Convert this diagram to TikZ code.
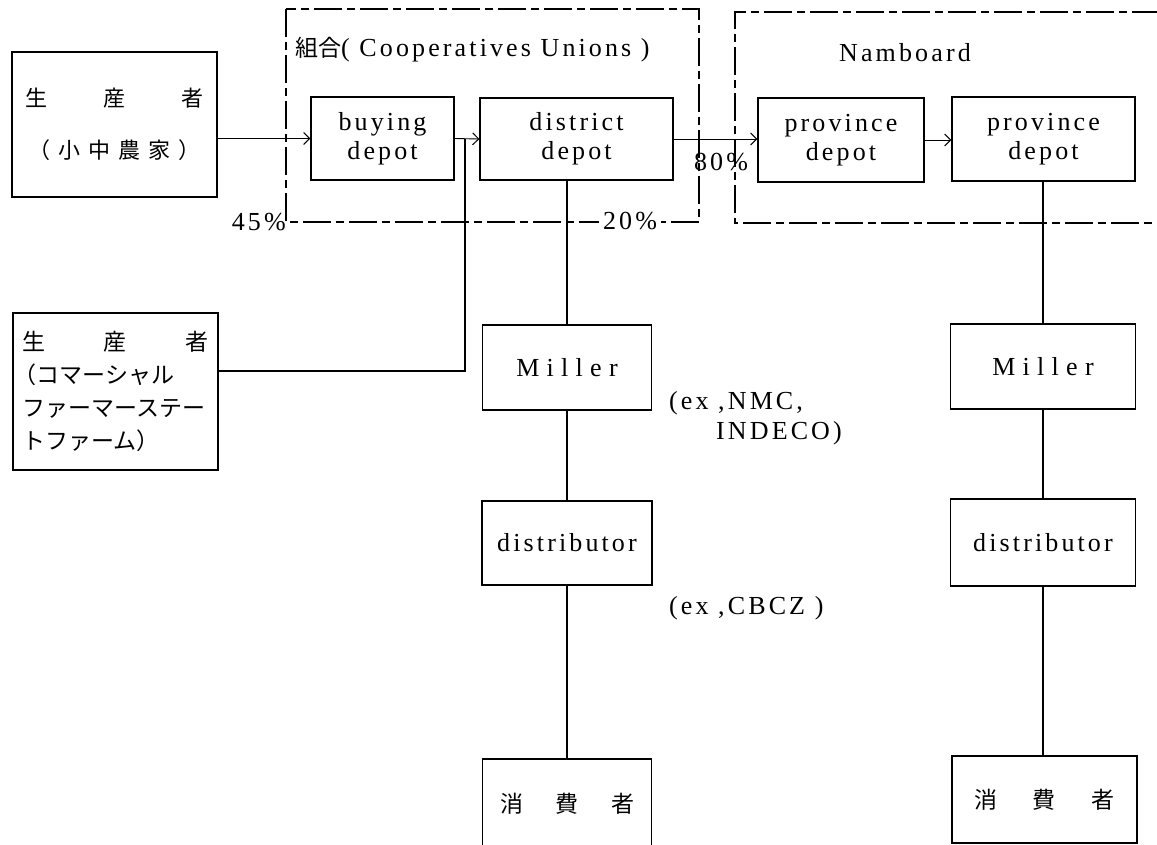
\documentclass[tikz,border=0pt]{standalone}
\usepackage{fontspec}
\setmainfont{Liberation Serif}[LetterSpace=12]
\newfontfamily\jp{Noto Sans CJK JP}
\usetikzlibrary{arrows.meta}
\newcommand\latfont{\fontsize{26pt}{29pt}\selectfont}
\newcommand\jpfont{\jp\fontsize{23pt}{33pt}\selectfont}
\begin{document}
\begin{tikzpicture}[x=1pt,y=-1pt,
  box/.style={draw, line width=1.3pt, inner sep=0pt, align=center, font=\latfont},
  arr/.style={line width=0.9pt, -{Straight Barb[length=6pt,width=12pt,line width=1pt]}},
  link/.style={line width=1.4pt},
  group/.style={line width=1.2pt, dash pattern=on 28pt off 5pt on 8pt off 5pt},
  lbl/.style={inner sep=0pt, font=\latfont}]
\useasboundingbox (0,0) rectangle (1157,844);

% group frames
\draw[group] (286,9) rectangle (699,222);
\draw[group] (1160,12) -- (735,12) -- (735,223) -- (1160,223);

% producers
\node[box, minimum width=205pt, minimum height=145pt,
      font={\jp\fontsize{22pt}{52pt}\selectfont}] (p1) at (114.5,124.5)
  {\makebox[178pt]{生\hfill 産\hfill 者}\\\makebox[172pt]{（\hfill 小\hfill 中\hfill 農\hfill 家\hfill ）}};
\node[box, minimum width=205pt, minimum height=157pt, align=left,
      font=\jpfont] (p2) at (115.5,391.5)
  {\makebox[186pt][l]{生\hfill 産\hfill 者}\\\makebox[186pt][l]{\hspace*{-9pt}（コマーシャル}\\\makebox[186pt][l]{ファーマーステー}\\\makebox[186pt][l]{トファーム）}};

% depots
\node[box, minimum width=143pt, minimum height=83pt] (buy) at (382.5,138.5) {buying\\depot};
\node[box, minimum width=193pt, minimum height=82pt] (dist) at (576.5,139) {district\\depot};
\node[box, minimum width=166pt, minimum height=84pt] (prov1) at (841,140) {province\\depot};
\node[box, minimum width=183pt, minimum height=84pt] (prov2) at (1043.5,139) {province\\depot};

% left column
\node[box, minimum width=169pt, minimum height=85pt] (mill1) at (567,367.5) {\addfontfeature{LetterSpace=28}Miller};
\node[box, minimum width=170pt, minimum height=84pt] (distr1) at (567,543) {distributor};
\node[box, minimum width=169pt, minimum height=90pt, font=\jpfont] (cons1) at (567,804) {\makebox[134pt]{消\hfill 費\hfill 者}};

% right column
\node[box, minimum width=185pt, minimum height=85pt] (mill2) at (1043,366.5) {\addfontfeature{LetterSpace=28}Miller};
\node[box, minimum width=185pt, minimum height=87pt] (distr2) at (1043,542.5) {distributor};
\node[box, minimum width=185pt, minimum height=87pt, font=\jpfont] (cons2) at (1044.5,799.5) {\makebox[140pt]{消\hfill 費\hfill 者}};

% labels
\node[lbl, anchor=west] (lab1) at (295,50) {{\jp\fontsize{23pt}{29pt}\selectfont 組合}( Cooperatives Unions )};
\node[lbl] (lab2) at (905,53) {Namboard};
\node[lbl, anchor=east] (p45) at (286,222) {45\%};
\node[lbl, fill=white, inner sep=4pt] (p20) at (630,221) {20\%};
\node[lbl] (p80) at (721,162) {80\%};
\node[lbl, anchor=west, align=left, font={\fontsize{26pt}{30pt}\selectfont}] (ex1) at (669,418) {(ex ,NMC,\\\hspace*{47pt}INDECO)};
\node[lbl, anchor=west] (ex2) at (669,608) {(ex ,CBCZ )};

% connectors
\coordinate (j) at (465,138.5);
\draw[arr] (p1.east |- buy.west) -- (buy.west);
\draw[arr] (buy.east) -- (dist.west);
\draw[link] ([yshift=20.5pt]p2.east) -| (j);
\draw[arr] (dist.east) -- (dist.east -| prov1.west);
\draw[arr] (prov1.east) -- (prov1.east -| prov2.west);
\draw[link] (dist.south -| mill1.north) -- (mill1.north);
\draw[link] (mill1.south) -- (distr1.north);
\draw[link] (distr1.south) -- (cons1.north);
\draw[link] (prov2.south -| mill2.north) -- (mill2.north);
\draw[link] (mill2.south) -- (distr2.north);
\draw[link] (distr2.south) -- (distr2.south |- cons2.north);
\end{tikzpicture}
\end{document}
